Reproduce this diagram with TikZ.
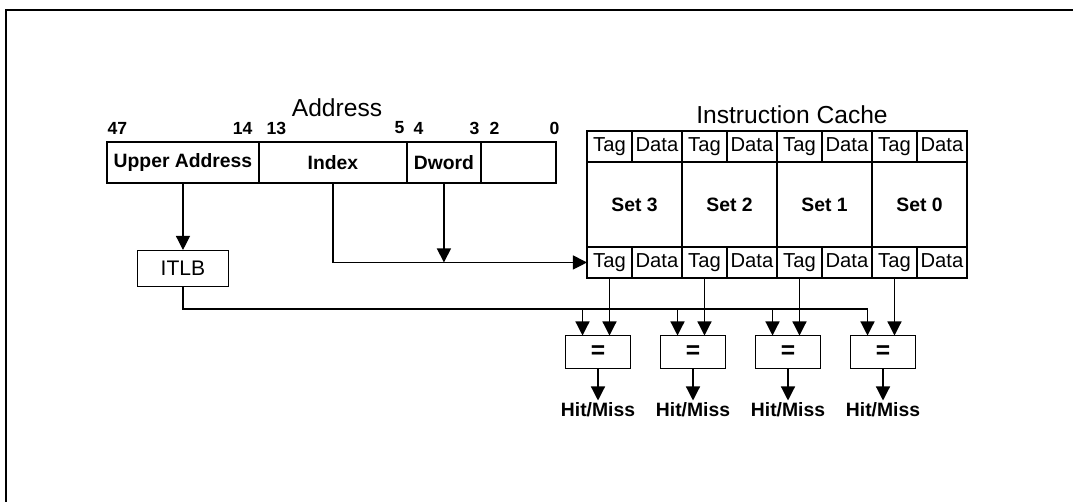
\documentclass[tikz,border=0pt]{standalone}
\usepackage{fontspec}
\setmainfont{Liberation Sans}
\usetikzlibrary{arrows.meta,positioning,calc}

\begin{document}
\begin{tikzpicture}[
  x=0.02cm, y=-0.02cm,
  line width=0.7pt,
  >={Triangle[length=8pt,width=8pt]},
  % Block styles
  field/.style={
    draw, line width=0.8pt, inner sep=0pt, outer sep=0pt,
    minimum height=0.82cm, font=\fontsize{11}{13}\selectfont\bfseries
  },
  cell/.style={
    draw, line width=0.8pt, inner sep=0pt, outer sep=0pt,
    minimum height=0.62cm, text height=8pt, text depth=2.3pt,
    font=\fontsize{11.5}{13}\selectfont
  },
  tagcell/.style={cell, minimum width=0.9cm},
  datacell/.style={cell, minimum width=1.0cm},
  setcell/.style={
    draw, line width=0.8pt, inner sep=0pt, outer sep=0pt,
    minimum width=1.9cm, minimum height=1.7cm,
    font=\fontsize{11}{13}\selectfont\bfseries
  },
  compare/.style={
    draw, line width=0.8pt, inner sep=0pt, outer sep=0pt,
    minimum width=1.3cm, minimum height=0.66cm,
    font=\fontsize{14}{16}\selectfont\bfseries
  },
  bit/.style={font=\fontsize{10}{12}\selectfont\bfseries, inner sep=0pt},
  title/.style={font=\fontsize{14}{16}\selectfont},
  hit/.style={font=\fontsize{11}{13}\selectfont\bfseries, inner sep=1pt},
  arrow/.style={->}
]
\useasboundingbox (0,0) rectangle (1073,502);

% ── Frame ────────────────────────────────────────────────────────────────────
\draw[line width=1.4pt] (6,502) -- (6,10) -- (1073,10);

% ── Address fields ───────────────────────────────────────────────────────────
\node[title] (addrtitle) at (337,108) {Address};

\node[field, minimum width=3.04cm, anchor=north west] (upper) at (107,142) {Upper Address};
\node[field, minimum width=2.96cm, right=0pt of upper] (index) {Index};
\node[field, minimum width=1.48cm, right=0pt of index] (dword) {Dword};
\node[field, minimum width=1.50cm, right=0pt of dword] (low)   {};
\draw[line width=1.5pt] (upper.north east) -- (upper.south east);

% Bit numbers
\node[bit, anchor=west] (b47) at (107,128) {47};
\node[bit, anchor=east] (b14) at (253,128) {14};
\node[bit, anchor=west] (b13) at (266,128) {13};
\node[bit, anchor=east] (b5)  at (405,128) {5};
\node[bit, anchor=west] (b4)  at (413,128) {4};
\node[bit, anchor=east] (b3)  at (480,128) {3};
\node[bit, anchor=west] (b2)  at (489,128) {2};
\node[bit, anchor=east] (b0)  at (560,128) {0};

% ── ITLB ─────────────────────────────────────────────────────────────────────
\node[draw, line width=0.8pt, minimum width=1.82cm, minimum height=0.72cm,
      font=\fontsize{12}{14}\selectfont, below=1.34cm of upper] (itlb) {ITLB};

% ── Instruction cache ────────────────────────────────────────────────────────
\node[title] (cachetitle) at (792,115) {Instruction Cache};

\foreach \s [count=\i from 0] in {3,2,1,0} {
  \node[tagcell, anchor=north west] (toptag\s) at ({587+95*\i},131) {Tag};
  \node[datacell, right=0pt of toptag\s] (topdata\s) {Data};
  \node[setcell, anchor=north west] (set\s) at (toptag\s.south west) {Set \s};
  \node[tagcell, anchor=north west] (tag\s) at (set\s.south west) {Tag};
  \node[datacell, right=0pt of tag\s] (data\s) {Data};
}

% ── Comparators ──────────────────────────────────────────────────────────────
\coordinate (busY) at (0,309);
\foreach \s [count=\i from 0] in {3,2,1,0} {
  \node[compare] (cmp\s) at ({598+95*\i},352) {=};
  \coordinate (in\s) at ($(cmp\s.north west)+(17,0)$);
  \node[hit, below=0.64cm of cmp\s] (hit\s) {Hit/Miss};
}

% ── Arrows: address -> ITLB / cache ──────────────────────────────────────────
\draw[arrow] (upper.south) -- (itlb.north);
\draw[arrow] (index.south) |- (tag3.west);
\draw[arrow] (dword.south) -- (dword.south |- tag3.west);

% ── Arrows: ITLB bus, tags -> comparators -> result ──────────────────────────
\draw (itlb.south) |- (busY -| in0);
\foreach \s in {3,2,1,0} {
  \draw[arrow] (tag\s.south) -- (tag\s.south |- cmp\s.north);
  \draw[arrow] (busY -| in\s) -- (in\s);
  \draw[arrow] (cmp\s.south) -- (hit\s.north);
}

\end{tikzpicture}
\end{document}
